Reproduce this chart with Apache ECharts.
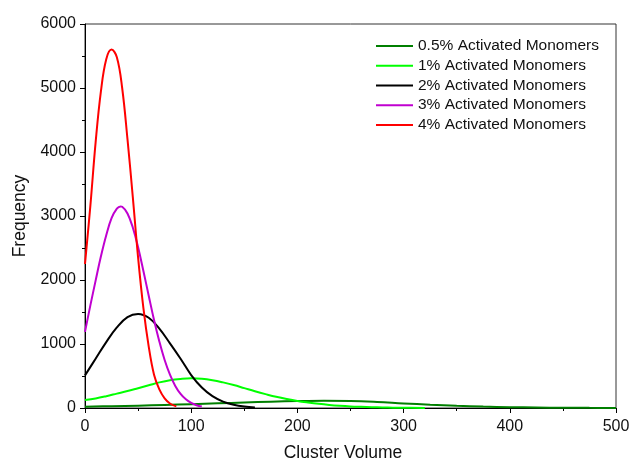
<!DOCTYPE html>
<html>
<head>
<meta charset="utf-8">
<script src="https://cdn.jsdelivr.net/npm/echarts@6/dist/echarts.min.js"></script>
<style>
html,body{margin:0;padding:0;background:#fff;}
#chart{width:629px;height:459px;}
</style>
</head>
<body>
<div id="chart"></div>
<script>
// Data
const seriesNames = ['0.5% Activated Monomers','1% Activated Monomers','2% Activated Monomers','3% Activated Monomers','4% Activated Monomers'];

const x05 = [0,25,50,75,100,125,150,175,200,225,250,275,300,325,350,375,400,425,450,475,500];
const y05 = [21,28,37,48,60,73,86,98,108,113,110,95,72,52,35,22,13,8,4,2,1];

const x1 = [0,10,20,30,40,50,60,70,80,90,100,110,120,130,140,150,160,170,180,190,200,210,220,230,240,250,260,270,280,290,300,320];
const y1 = [125,150,185,225,265,310,355,400,435,455,465,458,435,400,358,310,262,217,175,140,110,86,65,48,35,25,18,12,8,5,3,1];

const x2 = [0,10,20,30,40,50,60,70,80,90,100,110,120,130,140,150,160];
const y2 = [510,770,1030,1260,1420,1469,1410,1240,1010,770,515,320,185,100,50,22,9];

const x3 = [0,5,10,15,20,25,30,33.5,35,40,45,50,55,60,65,70,75,80,85,90,95,100,105,110];
const y3 = [1190,1600,1990,2370,2700,2965,3115,3150,3145,3040,2820,2510,2140,1755,1375,1040,750,520,345,220,135,79,44,22];

const x4 = [0,5,10,15,20,25,30,35,40,45,50,55,60,65,70,75,80,86];
const y4 = [2250,3150,4150,4950,5450,5600,5480,5000,4200,3300,2350,1560,960,520,290,150,70,25];

const xTicks = {min:0, max:500, interval:100};
const yTicks = {min:0, max:6000, interval:1000};

const colors = ['#007f00','#00ff00','#000000','#c000d0','#ff0000'];

function pairs(xs, ys){ return xs.map((x,i)=>[x, ys[i]]); }
const allData = [pairs(x05,y05), pairs(x1,y1), pairs(x2,y2), pairs(x3,y3), pairs(x4,y4)];

const chart = echarts.init(document.getElementById('chart'), null, {renderer:'canvas'});
const font = '"Liberation Sans", Arial, sans-serif';

chart.setOption({
  backgroundColor:'#ffffff',
  animation:false,
  grid:{left:85, right:13, top:24, bottom:51, show:true, borderColor:'#333', borderWidth:1,
        backgroundColor:'transparent', containLabel:false, outerBoundsMode:'none'},
  legend:{
    orient:'vertical', left:371, top:31, padding:5,
    icon:'rect', itemWidth:37, itemHeight:2, itemGap:0,
    textStyle:{fontFamily:font, fontSize:15.5, color:'#111', lineHeight:19.75},
    data:seriesNames
  },
  xAxis:{
    type:'value', min:xTicks.min, max:xTicks.max, interval:xTicks.interval,
    name:'Cluster Volume', nameLocation:'middle', nameGap:36,
    nameTextStyle:{fontFamily:font, fontSize:17.5, color:'#111', padding:[0,15,0,0]},
    axisLine:{show:true, lineStyle:{color:'#000', width:1}},
    axisTick:{show:true, inside:false, length:5, lineStyle:{color:'#000'}},
    minorTick:{show:true, splitNumber:2, length:3, lineStyle:{color:'#000'}},
    axisLabel:{fontFamily:font, fontSize:16, color:'#111', margin:11, formatter:v=>String(v)},
    splitLine:{show:false}
  },
  yAxis:{
    type:'value', min:yTicks.min, max:yTicks.max, interval:yTicks.interval,
    name:'Frequency', nameLocation:'middle', nameGap:51,
    nameTextStyle:{fontFamily:font, fontSize:17.5, color:'#111'},
    axisLine:{show:true, lineStyle:{color:'#000', width:1}},
    axisTick:{show:true, inside:false, length:5, lineStyle:{color:'#000'}},
    minorTick:{show:true, splitNumber:2, length:3, lineStyle:{color:'#000'}},
    axisLabel:{fontFamily:font, fontSize:16, color:'#111', margin:9, formatter:v=>String(v)},
    splitLine:{show:false}
  },
  series: seriesNames.map((n,i)=>({
    name:n, type:'line', data:allData[i], smooth:0.4, symbol:'none',
    lineStyle:{color:colors[i], width:2},
    itemStyle:{color:colors[i]},
    clip:true
  }))
});
</script>
</body>
</html>
